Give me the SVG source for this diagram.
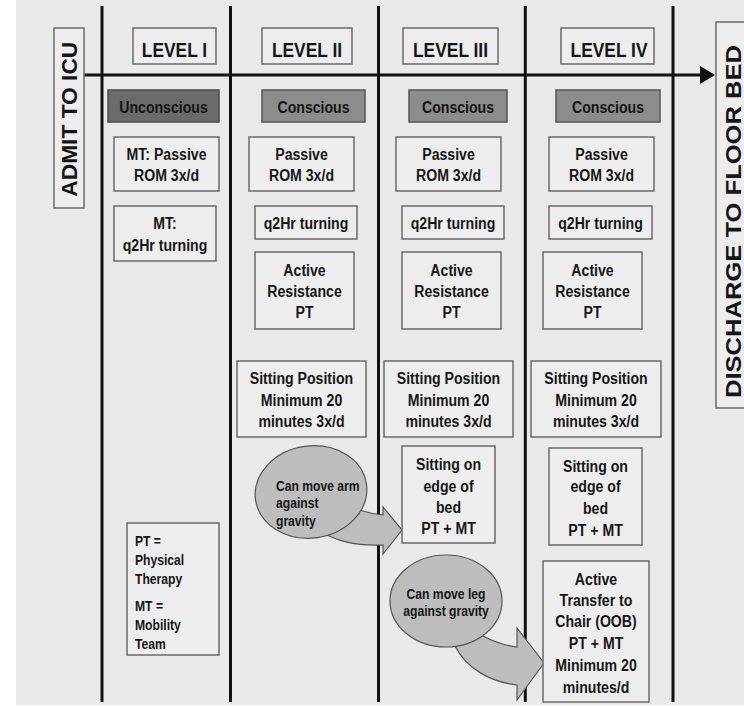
<svg xmlns="http://www.w3.org/2000/svg" width="744" height="706" viewBox="0 0 744 706">
<defs>
<style>
.bg{fill:#e9e9e9}
.lane{stroke:#111;stroke-width:3;fill:none}
.box{fill:#ededed;stroke:#6a6a6a;stroke-width:1.5}
.dark{fill:#6b6b6b;stroke:#4a4a4a;stroke-width:1.5}
.mid{fill:#8c8c8c;stroke:#555;stroke-width:1.5}
.bubble{fill:#bdbdbd;stroke:#555;stroke-width:1.2}
.t{font-family:"Liberation Sans",Arial,sans-serif;font-weight:bold;font-size:17px;fill:#161616;text-anchor:middle;transform-box:fill-box;transform-origin:center;transform:scaleX(0.83)}
.tl{font-family:"Liberation Sans",Arial,sans-serif;font-weight:bold;font-size:15px;fill:#161616;text-anchor:start;transform-box:fill-box;transform-origin:left center;transform:scaleX(0.81)}
.s{font-size:15px;transform:scaleX(0.81)}
.h{font-size:20px;transform:scaleX(0.87)}
.rt{font-family:"Liberation Sans",Arial,sans-serif;font-weight:bold;font-size:22px;fill:#161616;text-anchor:middle}
</style>
</defs>
<rect x="16" y="0" width="728" height="705" class="bg"/>
<g id="lanes">
<line x1="102" y1="6" x2="102" y2="702" class="lane"/>
<line x1="230.5" y1="6" x2="230.5" y2="702" class="lane"/>
<line x1="378.5" y1="6" x2="378.5" y2="702" class="lane"/>
<line x1="525.3" y1="6" x2="525.3" y2="702" class="lane"/>
<line x1="673" y1="6" x2="673" y2="702" class="lane"/>
</g>
<g id="connectors">
<line x1="84" y1="75" x2="702" y2="75" stroke="#111" stroke-width="3"/>
<polygon points="700,66 715,75 700,84" fill="#111"/>
<path class="bubble" d="M 345,505 L 363,511 Q 372,514 383,515 L 383,507 L 402,530 L 383,554 L 383,545 C 360,546 338,542 322,532 Z"/>
<path class="bubble" d="M 470,625 L 483,636 Q 500,645 517,647 L 517,628 L 544,663 L 517,700 L 517,685 C 490,682 466,668 455,646 L 450,630 Z"/>
</g>
<g id="admit">
<rect x="54" y="28" width="30" height="180" class="box"/>
<text class="rt" transform="translate(77.3,119.2) rotate(-90)" textLength="155" lengthAdjust="spacingAndGlyphs">ADMIT TO ICU</text>
</g>
<g id="discharge">
<rect x="716" y="22" width="40" height="386" class="box"/>
<text class="rt" transform="translate(740.5,221.5) rotate(-90)" textLength="353" lengthAdjust="spacingAndGlyphs">DISCHARGE TO FLOOR BED</text>
</g>
<g id="level1">
<rect x="133" y="28" width="83" height="36" class="box"/>
<text class="t h" x="174.5" y="57.5">LEVEL I</text>
</g>
<g id="level2">
<rect x="262" y="28" width="90" height="36" class="box"/>
<text class="t h" x="307" y="57.5">LEVEL II</text>
</g>
<g id="level3">
<rect x="403" y="28" width="95" height="36" class="box"/>
<text class="t h" x="450.5" y="57.5">LEVEL III</text>
</g>
<g id="level4">
<rect x="561" y="28" width="93" height="36" class="box"/>
<text class="t h" x="609" y="57.5">LEVEL IV</text>
</g>
<g id="status1">
<rect x="108" y="90" width="111" height="32" class="dark"/>
<text class="t" x="163.5" y="113">Unconscious</text>
</g>
<g id="status2">
<rect x="262" y="90" width="103" height="32" class="mid"/>
<text class="t" x="313.5" y="113">Conscious</text>
</g>
<g id="status3">
<rect x="409" y="90" width="98" height="32" class="mid"/>
<text class="t" x="458" y="113">Conscious</text>
</g>
<g id="status4">
<rect x="556" y="90" width="104" height="32" class="mid"/>
<text class="t" x="608" y="113">Conscious</text>
</g>
<g id="l1-rom">
<rect x="114" y="137" width="105" height="54" class="box"/>
<text class="t" x="166.5" y="160.5">MT: Passive</text>
<text class="t" x="166.5" y="181.5">ROM 3x/d</text>
</g>
<g id="l1-turn">
<rect x="114" y="206" width="102" height="55" class="box"/>
<text class="t" x="165" y="229.5">MT:</text>
<text class="t" x="165" y="251.5">q2Hr turning</text>
</g>
<g id="legend">
<rect x="127" y="523" width="92" height="132" class="box"/>
<text class="tl" x="135" y="546">PT =</text>
<text class="tl" x="135" y="565">Physical</text>
<text class="tl" x="135" y="584">Therapy</text>
<text class="tl" x="135" y="611">MT =</text>
<text class="tl" x="135" y="630">Mobility</text>
<text class="tl" x="135" y="649">Team</text>
</g>
<g id="l2-rom">
<rect x="249" y="137" width="105" height="54" class="box"/>
<text class="t" x="301.5" y="160.5">Passive</text>
<text class="t" x="301.5" y="181.5">ROM 3x/d</text>
</g>
<g id="l2-turn">
<rect x="255" y="206" width="102" height="33" class="box"/>
<text class="t" x="306" y="229.5">q2Hr turning</text>
</g>
<g id="l2-active">
<rect x="255" y="252" width="99" height="77" class="box"/>
<text class="t" x="304.5" y="276">Active</text>
<text class="t" x="304.5" y="297.5">Resistance</text>
<text class="t" x="304.5" y="318.5">PT</text>
</g>
<g id="l2-sitting">
<rect x="237" y="361" width="129" height="76" class="box"/>
<text class="t" x="301.5" y="384.5">Sitting Position</text>
<text class="t" x="301.5" y="406">Minimum 20</text>
<text class="t" x="301.5" y="427.5">minutes 3x/d</text>
</g>
<g id="arm-bubble">
<ellipse cx="311" cy="492" rx="56" ry="46" class="bubble" transform="rotate(-8 311 492)"/>
<text class="tl" x="276" y="491">Can move arm</text>
<text class="tl" x="276" y="508.5">against</text>
<text class="tl" x="276" y="526.5">gravity</text>
</g>
<g id="l3-rom">
<rect x="396" y="137" width="105" height="54" class="box"/>
<text class="t" x="448.5" y="160.5">Passive</text>
<text class="t" x="448.5" y="181.5">ROM 3x/d</text>
</g>
<g id="l3-turn">
<rect x="402" y="206" width="102" height="33" class="box"/>
<text class="t" x="453" y="229.5">q2Hr turning</text>
</g>
<g id="l3-active">
<rect x="402" y="252" width="99" height="77" class="box"/>
<text class="t" x="451.5" y="276">Active</text>
<text class="t" x="451.5" y="297.5">Resistance</text>
<text class="t" x="451.5" y="318.5">PT</text>
</g>
<g id="l3-sitting">
<rect x="384" y="361" width="129" height="76" class="box"/>
<text class="t" x="448.5" y="384.5">Sitting Position</text>
<text class="t" x="448.5" y="406">Minimum 20</text>
<text class="t" x="448.5" y="427.5">minutes 3x/d</text>
</g>
<g id="l3-edge">
<rect x="402" y="446" width="93" height="97" class="box"/>
<text class="t" x="448.5" y="470">Sitting on</text>
<text class="t" x="448.5" y="492">edge of</text>
<text class="t" x="448.5" y="513.5">bed</text>
<text class="t" x="448.5" y="534.5">PT + MT</text>
</g>
<g id="leg-bubble">
<ellipse cx="446" cy="601" rx="56" ry="46" class="bubble"/>
<text class="t s" x="446" y="599">Can move leg</text>
<text class="t s" x="446" y="616">against gravity</text>
</g>
<g id="l4-rom">
<rect x="549" y="137" width="105" height="54" class="box"/>
<text class="t" x="601.5" y="160.5">Passive</text>
<text class="t" x="601.5" y="181.5">ROM 3x/d</text>
</g>
<g id="l4-turn">
<rect x="549" y="206" width="103" height="33" class="box"/>
<text class="t" x="600.5" y="229.5">q2Hr turning</text>
</g>
<g id="l4-active">
<rect x="543" y="252" width="99" height="77" class="box"/>
<text class="t" x="592.5" y="276">Active</text>
<text class="t" x="592.5" y="297.5">Resistance</text>
<text class="t" x="592.5" y="318.5">PT</text>
</g>
<g id="l4-sitting">
<rect x="531" y="361" width="130" height="76" class="box"/>
<text class="t" x="596" y="384.5">Sitting Position</text>
<text class="t" x="596" y="406">Minimum 20</text>
<text class="t" x="596" y="427.5">minutes 3x/d</text>
</g>
<g id="l4-edge">
<rect x="549" y="448" width="93" height="97" class="box"/>
<text class="t" x="595.5" y="472.5">Sitting on</text>
<text class="t" x="595.5" y="492.5">edge of</text>
<text class="t" x="595.5" y="514">bed</text>
<text class="t" x="595.5" y="536">PT + MT</text>
</g>
<g id="l4-transfer">
<rect x="543" y="561" width="106" height="141" class="box"/>
<text class="t" x="596" y="585">Active</text>
<text class="t" x="596" y="606">Transfer to</text>
<text class="t" x="596" y="627.5">Chair (OOB)</text>
<text class="t" x="596" y="649.5">PT + MT</text>
<text class="t" x="596" y="671">Minimum 20</text>
<text class="t" x="596" y="693.5">minutes/d</text>
</g>
</svg>
